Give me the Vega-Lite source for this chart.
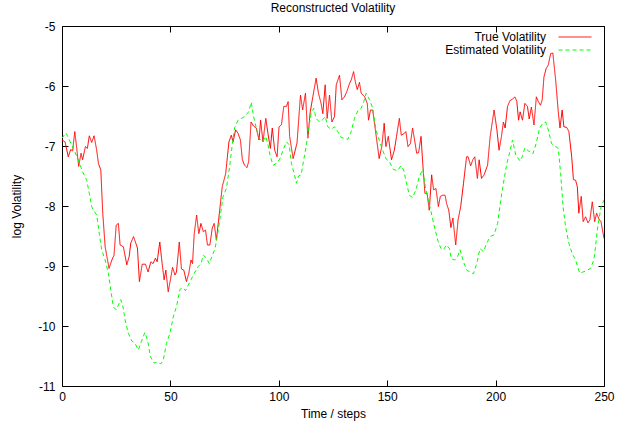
{
  "$schema": "https://vega.github.io/schema/vega-lite/v6.json",
  "autosize": "none",
  "width": 542,
  "height": 360,
  "padding": {"left": 62, "top": 26, "right": 24, "bottom": 41},
  "title": {"text": "Reconstructed Volatility", "fontSize": 12, "fontWeight": "normal", "font": "Liberation Sans", "color": "black", "offset": 5, "anchor": "middle"},
  "config": {
    "font": "Liberation Sans",
    "view": {"stroke": "black", "strokeWidth": 1},
    "axis": {"grid": false, "domain": false, "tickColor": "black", "tickSize": -6, "tickWidth": 1, "labelFontSize": 12, "titleFontSize": 12, "titleFontWeight": "normal", "labelColor": "black", "titleColor": "black", "labelFont": "Liberation Sans", "titleFont": "Liberation Sans"},
    "legend": {"labelFontSize": 12, "labelFont": "Liberation Sans", "labelColor": "black"}
  },
  "data": {"values": [
    {"t":0,"v":-6.9,"s":"True Volatility"},{"t":1.4,"v":-6.93,"s":"True Volatility"},{"t":2.9,"v":-7.18,"s":"True Volatility"},{"t":4,"v":-7.06,"s":"True Volatility"},{"t":4.9,"v":-7.08,"s":"True Volatility"},{"t":5.9,"v":-6.76,"s":"True Volatility"},{"t":6.8,"v":-7.04,"s":"True Volatility"},{"t":7.7,"v":-7.34,"s":"True Volatility"},{"t":8.8,"v":-7.12,"s":"True Volatility"},{"t":9.5,"v":-7.23,"s":"True Volatility"},
    {"t":10.8,"v":-7.01,"s":"True Volatility"},{"t":11.7,"v":-7.04,"s":"True Volatility"},{"t":12.6,"v":-6.83,"s":"True Volatility"},{"t":13.7,"v":-6.94,"s":"True Volatility"},{"t":14.8,"v":-6.83,"s":"True Volatility"},{"t":16,"v":-7.07,"s":"True Volatility"},{"t":16.8,"v":-7.29,"s":"True Volatility"},{"t":17.9,"v":-7.4,"s":"True Volatility"},{"t":18.8,"v":-8.12,"s":"True Volatility"},{"t":19.9,"v":-8.68,"s":"True Volatility"},
    {"t":21.7,"v":-9.04,"s":"True Volatility"},{"t":23,"v":-8.9,"s":"True Volatility"},{"t":24,"v":-8.82,"s":"True Volatility"},{"t":25,"v":-8.32,"s":"True Volatility"},{"t":26,"v":-8.29,"s":"True Volatility"},{"t":26.8,"v":-8.65,"s":"True Volatility"},{"t":28.3,"v":-8.68,"s":"True Volatility"},{"t":29.9,"v":-8.98,"s":"True Volatility"},{"t":31,"v":-8.84,"s":"True Volatility"},{"t":31.7,"v":-8.62,"s":"True Volatility"},
    {"t":33,"v":-8.51,"s":"True Volatility"},{"t":34.8,"v":-8.7,"s":"True Volatility"},{"t":35.7,"v":-9.26,"s":"True Volatility"},{"t":37,"v":-8.97,"s":"True Volatility"},{"t":38.5,"v":-8.97,"s":"True Volatility"},{"t":39.7,"v":-9.1,"s":"True Volatility"},{"t":41,"v":-8.93,"s":"True Volatility"},{"t":42,"v":-8.96,"s":"True Volatility"},{"t":43.1,"v":-8.87,"s":"True Volatility"},{"t":43.9,"v":-8.93,"s":"True Volatility"},
    {"t":45.1,"v":-8.6,"s":"True Volatility"},{"t":46.2,"v":-8.96,"s":"True Volatility"},{"t":47.1,"v":-9.23,"s":"True Volatility"},{"t":47.9,"v":-9.07,"s":"True Volatility"},{"t":49,"v":-9.43,"s":"True Volatility"},{"t":50,"v":-9.23,"s":"True Volatility"},{"t":51,"v":-9.02,"s":"True Volatility"},{"t":52.1,"v":-9.15,"s":"True Volatility"},{"t":52.8,"v":-9.1,"s":"True Volatility"},{"t":54.1,"v":-8.6,"s":"True Volatility"},
    {"t":55.1,"v":-9.05,"s":"True Volatility"},{"t":56.2,"v":-9.07,"s":"True Volatility"},{"t":57.4,"v":-9.26,"s":"True Volatility"},{"t":58.5,"v":-9.12,"s":"True Volatility"},{"t":59.5,"v":-8.9,"s":"True Volatility"},{"t":60.2,"v":-8.96,"s":"True Volatility"},{"t":61,"v":-8.46,"s":"True Volatility"},{"t":62.1,"v":-8.15,"s":"True Volatility"},{"t":63.1,"v":-8.46,"s":"True Volatility"},{"t":64.1,"v":-8.29,"s":"True Volatility"},
    {"t":65.2,"v":-8.43,"s":"True Volatility"},{"t":66.2,"v":-8.4,"s":"True Volatility"},{"t":67.1,"v":-8.65,"s":"True Volatility"},{"t":68.2,"v":-8.65,"s":"True Volatility"},{"t":69.3,"v":-8.37,"s":"True Volatility"},{"t":70.2,"v":-8.29,"s":"True Volatility"},{"t":71.2,"v":-8.57,"s":"True Volatility"},{"t":72.5,"v":-8.15,"s":"True Volatility"},{"t":73.9,"v":-7.68,"s":"True Volatility"},{"t":75.5,"v":-7.46,"s":"True Volatility"},
    {"t":77,"v":-6.93,"s":"True Volatility"},{"t":78.1,"v":-6.82,"s":"True Volatility"},{"t":78.9,"v":-6.93,"s":"True Volatility"},{"t":80.1,"v":-6.73,"s":"True Volatility"},{"t":81.2,"v":-6.79,"s":"True Volatility"},{"t":82.3,"v":-6.9,"s":"True Volatility"},{"t":83.2,"v":-7.23,"s":"True Volatility"},{"t":84.2,"v":-7.32,"s":"True Volatility"},{"t":85.3,"v":-7.36,"s":"True Volatility"},{"t":86.1,"v":-7.26,"s":"True Volatility"},
    {"t":87.2,"v":-6.6,"s":"True Volatility"},{"t":88.4,"v":-6.67,"s":"True Volatility"},{"t":89.6,"v":-6.7,"s":"True Volatility"},{"t":90.9,"v":-6.9,"s":"True Volatility"},{"t":91.6,"v":-6.57,"s":"True Volatility"},{"t":92.7,"v":-6.93,"s":"True Volatility"},{"t":94,"v":-6.54,"s":"True Volatility"},{"t":95,"v":-6.79,"s":"True Volatility"},{"t":96.1,"v":-7.04,"s":"True Volatility"},{"t":97,"v":-6.7,"s":"True Volatility"},
    {"t":98.1,"v":-7.07,"s":"True Volatility"},{"t":99.2,"v":-7.18,"s":"True Volatility"},{"t":100.1,"v":-6.68,"s":"True Volatility"},{"t":101.2,"v":-6.65,"s":"True Volatility"},{"t":102.3,"v":-6.34,"s":"True Volatility"},{"t":103.5,"v":-6.34,"s":"True Volatility"},{"t":104.3,"v":-6.26,"s":"True Volatility"},{"t":105,"v":-6.84,"s":"True Volatility"},{"t":106.6,"v":-7.21,"s":"True Volatility"},{"t":108.4,"v":-6.95,"s":"True Volatility"},
    {"t":110,"v":-6.15,"s":"True Volatility"},{"t":111,"v":-6.4,"s":"True Volatility"},{"t":112.3,"v":-6.12,"s":"True Volatility"},{"t":113.4,"v":-6.87,"s":"True Volatility"},{"t":114.5,"v":-6.43,"s":"True Volatility"},{"t":115.7,"v":-6.18,"s":"True Volatility"},{"t":117.2,"v":-5.87,"s":"True Volatility"},{"t":118.3,"v":-6.12,"s":"True Volatility"},{"t":119.5,"v":-6.29,"s":"True Volatility"},{"t":120.3,"v":-6.46,"s":"True Volatility"},
    {"t":121.4,"v":-5.98,"s":"True Volatility"},{"t":122.3,"v":-6.54,"s":"True Volatility"},{"t":123.4,"v":-6.15,"s":"True Volatility"},{"t":124.5,"v":-6.6,"s":"True Volatility"},{"t":125.7,"v":-6.51,"s":"True Volatility"},{"t":126.5,"v":-5.98,"s":"True Volatility"},{"t":128,"v":-5.82,"s":"True Volatility"},{"t":129.1,"v":-6.23,"s":"True Volatility"},{"t":130.3,"v":-6.18,"s":"True Volatility"},{"t":131.4,"v":-6.09,"s":"True Volatility"},
    {"t":132.6,"v":-5.96,"s":"True Volatility"},{"t":133.4,"v":-5.9,"s":"True Volatility"},{"t":134.5,"v":-5.76,"s":"True Volatility"},{"t":135.3,"v":-5.93,"s":"True Volatility"},{"t":136.2,"v":-6.06,"s":"True Volatility"},{"t":137.2,"v":-5.94,"s":"True Volatility"},{"t":138,"v":-6.12,"s":"True Volatility"},{"t":139.6,"v":-6.18,"s":"True Volatility"},{"t":140.8,"v":-6.29,"s":"True Volatility"},{"t":141.4,"v":-6.57,"s":"True Volatility"},
    {"t":142.3,"v":-6.4,"s":"True Volatility"},{"t":143.3,"v":-6.4,"s":"True Volatility"},{"t":144.5,"v":-6.72,"s":"True Volatility"},{"t":146.3,"v":-7.21,"s":"True Volatility"},{"t":147.5,"v":-7.01,"s":"True Volatility"},{"t":148.6,"v":-6.62,"s":"True Volatility"},{"t":149.4,"v":-7.01,"s":"True Volatility"},{"t":150.5,"v":-6.84,"s":"True Volatility"},{"t":152,"v":-7.23,"s":"True Volatility"},{"t":153.3,"v":-7.07,"s":"True Volatility"},
    {"t":154.3,"v":-6.84,"s":"True Volatility"},{"t":155.6,"v":-6.54,"s":"True Volatility"},{"t":156.5,"v":-6.82,"s":"True Volatility"},{"t":157.9,"v":-6.79,"s":"True Volatility"},{"t":158.6,"v":-6.76,"s":"True Volatility"},{"t":159.6,"v":-7.01,"s":"True Volatility"},{"t":160.7,"v":-6.96,"s":"True Volatility"},{"t":161.7,"v":-6.7,"s":"True Volatility"},{"t":162.5,"v":-6.87,"s":"True Volatility"},{"t":163.6,"v":-7.12,"s":"True Volatility"},
    {"t":164.5,"v":-7.11,"s":"True Volatility"},{"t":165.6,"v":-6.84,"s":"True Volatility"},{"t":166.4,"v":-7.29,"s":"True Volatility"},{"t":167.4,"v":-7.79,"s":"True Volatility"},{"t":168.4,"v":-7.79,"s":"True Volatility"},{"t":169.4,"v":-8.07,"s":"True Volatility"},{"t":170.5,"v":-7.48,"s":"True Volatility"},{"t":171.4,"v":-7.73,"s":"True Volatility"},{"t":172.5,"v":-7.71,"s":"True Volatility"},{"t":173.6,"v":-8.01,"s":"True Volatility"},
    {"t":174.5,"v":-7.84,"s":"True Volatility"},{"t":175.6,"v":-7.82,"s":"True Volatility"},{"t":176.7,"v":-7.82,"s":"True Volatility"},{"t":177.4,"v":-7.96,"s":"True Volatility"},{"t":178.4,"v":-8.07,"s":"True Volatility"},{"t":179.4,"v":-8.36,"s":"True Volatility"},{"t":180.3,"v":-8.2,"s":"True Volatility"},{"t":181.6,"v":-8.65,"s":"True Volatility"},{"t":182.7,"v":-8.23,"s":"True Volatility"},{"t":183.9,"v":-8.01,"s":"True Volatility"},
    {"t":185.2,"v":-7.62,"s":"True Volatility"},{"t":186.6,"v":-7.18,"s":"True Volatility"},{"t":187.3,"v":-7.18,"s":"True Volatility"},{"t":188.5,"v":-7.33,"s":"True Volatility"},{"t":189.5,"v":-7.23,"s":"True Volatility"},{"t":190.4,"v":-7.18,"s":"True Volatility"},{"t":191.6,"v":-7.54,"s":"True Volatility"},{"t":192.4,"v":-7.23,"s":"True Volatility"},{"t":193.5,"v":-7.54,"s":"True Volatility"},{"t":194.7,"v":-7.48,"s":"True Volatility"},
    {"t":196.3,"v":-7.32,"s":"True Volatility"},{"t":197.5,"v":-6.84,"s":"True Volatility"},{"t":198.6,"v":-6.57,"s":"True Volatility"},{"t":199.3,"v":-6.4,"s":"True Volatility"},{"t":200.6,"v":-6.73,"s":"True Volatility"},{"t":201.6,"v":-7.07,"s":"True Volatility"},{"t":202.7,"v":-6.84,"s":"True Volatility"},{"t":203.6,"v":-6.6,"s":"True Volatility"},{"t":204.4,"v":-6.7,"s":"True Volatility"},{"t":205.5,"v":-6.34,"s":"True Volatility"},
    {"t":206.7,"v":-6.24,"s":"True Volatility"},{"t":207.8,"v":-6.22,"s":"True Volatility"},{"t":208.9,"v":-6.18,"s":"True Volatility"},{"t":209.8,"v":-6.26,"s":"True Volatility"},{"t":210.6,"v":-6.57,"s":"True Volatility"},{"t":211.3,"v":-6.43,"s":"True Volatility"},{"t":212.4,"v":-6.57,"s":"True Volatility"},{"t":213.5,"v":-6.29,"s":"True Volatility"},{"t":214.7,"v":-6.34,"s":"True Volatility"},{"t":215.5,"v":-6.55,"s":"True Volatility"},
    {"t":216.5,"v":-6.35,"s":"True Volatility"},{"t":217.7,"v":-6.65,"s":"True Volatility"},{"t":218.8,"v":-6.18,"s":"True Volatility"},{"t":219.7,"v":-6.26,"s":"True Volatility"},{"t":220.7,"v":-6.32,"s":"True Volatility"},{"t":221.5,"v":-6.23,"s":"True Volatility"},{"t":222.3,"v":-5.85,"s":"True Volatility"},{"t":223.3,"v":-5.71,"s":"True Volatility"},{"t":224.3,"v":-5.65,"s":"True Volatility"},{"t":225.4,"v":-5.46,"s":"True Volatility"},
    {"t":226.4,"v":-5.45,"s":"True Volatility"},{"t":227.7,"v":-5.9,"s":"True Volatility"},{"t":228.9,"v":-6.43,"s":"True Volatility"},{"t":229.7,"v":-6.7,"s":"True Volatility"},{"t":230.7,"v":-6.4,"s":"True Volatility"},{"t":231.5,"v":-6.68,"s":"True Volatility"},{"t":232.8,"v":-6.69,"s":"True Volatility"},{"t":233.8,"v":-6.76,"s":"True Volatility"},{"t":235.1,"v":-7.18,"s":"True Volatility"},{"t":235.9,"v":-7.56,"s":"True Volatility"},
    {"t":236.9,"v":-7.57,"s":"True Volatility"},{"t":237.7,"v":-7.68,"s":"True Volatility"},{"t":238.4,"v":-8.12,"s":"True Volatility"},{"t":239.5,"v":-7.84,"s":"True Volatility"},{"t":240.4,"v":-8.26,"s":"True Volatility"},{"t":241.5,"v":-8.18,"s":"True Volatility"},{"t":242.6,"v":-8.28,"s":"True Volatility"},{"t":243.5,"v":-8.23,"s":"True Volatility"},{"t":244.6,"v":-7.93,"s":"True Volatility"},{"t":245.7,"v":-8.26,"s":"True Volatility"},
    {"t":246.6,"v":-8.12,"s":"True Volatility"},{"t":247.7,"v":-8.22,"s":"True Volatility"},{"t":248.6,"v":-8.26,"s":"True Volatility"},{"t":250,"v":-8.54,"s":"True Volatility"},
    {"t":0,"v":-6.87,"s":"Estimated Volatility"},{"t":1.8,"v":-6.78,"s":"Estimated Volatility"},{"t":3.4,"v":-6.9,"s":"Estimated Volatility"},{"t":5.2,"v":-7.04,"s":"Estimated Volatility"},{"t":7.5,"v":-7.23,"s":"Estimated Volatility"},{"t":9.5,"v":-7.43,"s":"Estimated Volatility"},{"t":11.4,"v":-7.57,"s":"Estimated Volatility"},{"t":12.6,"v":-7.79,"s":"Estimated Volatility"},{"t":13.7,"v":-8.01,"s":"Estimated Volatility"},{"t":14.5,"v":-8.07,"s":"Estimated Volatility"},
    {"t":16,"v":-8.15,"s":"Estimated Volatility"},{"t":17.2,"v":-8.46,"s":"Estimated Volatility"},{"t":18.3,"v":-8.73,"s":"Estimated Volatility"},{"t":19.9,"v":-8.9,"s":"Estimated Volatility"},{"t":21.4,"v":-9.12,"s":"Estimated Volatility"},{"t":22.5,"v":-9.4,"s":"Estimated Volatility"},{"t":23.7,"v":-9.68,"s":"Estimated Volatility"},{"t":25,"v":-9.73,"s":"Estimated Volatility"},{"t":26,"v":-9.65,"s":"Estimated Volatility"},{"t":27.1,"v":-9.56,"s":"Estimated Volatility"},
    {"t":28,"v":-9.65,"s":"Estimated Volatility"},{"t":29.1,"v":-9.9,"s":"Estimated Volatility"},{"t":30.6,"v":-10.12,"s":"Estimated Volatility"},{"t":32.2,"v":-10.25,"s":"Estimated Volatility"},{"t":33.7,"v":-10.29,"s":"Estimated Volatility"},{"t":35.2,"v":-10.4,"s":"Estimated Volatility"},{"t":36.6,"v":-10.26,"s":"Estimated Volatility"},{"t":38.2,"v":-10.11,"s":"Estimated Volatility"},{"t":39.4,"v":-10.23,"s":"Estimated Volatility"},{"t":40.8,"v":-10.51,"s":"Estimated Volatility"},
    {"t":42.4,"v":-10.62,"s":"Estimated Volatility"},{"t":43.9,"v":-10.6,"s":"Estimated Volatility"},{"t":45.6,"v":-10.63,"s":"Estimated Volatility"},{"t":46.7,"v":-10.57,"s":"Estimated Volatility"},{"t":48.2,"v":-10.29,"s":"Estimated Volatility"},{"t":49.8,"v":-10.12,"s":"Estimated Volatility"},{"t":51.3,"v":-9.85,"s":"Estimated Volatility"},{"t":52.8,"v":-9.68,"s":"Estimated Volatility"},{"t":54.4,"v":-9.39,"s":"Estimated Volatility"},{"t":55.6,"v":-9.36,"s":"Estimated Volatility"},
    {"t":57,"v":-9.41,"s":"Estimated Volatility"},{"t":58.2,"v":-9.32,"s":"Estimated Volatility"},{"t":59.5,"v":-9.23,"s":"Estimated Volatility"},{"t":61,"v":-9.12,"s":"Estimated Volatility"},{"t":62.8,"v":-9.01,"s":"Estimated Volatility"},{"t":64.1,"v":-8.96,"s":"Estimated Volatility"},{"t":65.2,"v":-8.82,"s":"Estimated Volatility"},{"t":66.7,"v":-8.87,"s":"Estimated Volatility"},{"t":67.9,"v":-8.96,"s":"Estimated Volatility"},{"t":69.3,"v":-8.83,"s":"Estimated Volatility"},
    {"t":70.6,"v":-8.71,"s":"Estimated Volatility"},{"t":72.3,"v":-8.35,"s":"Estimated Volatility"},{"t":74.3,"v":-7.84,"s":"Estimated Volatility"},{"t":75.8,"v":-7.71,"s":"Estimated Volatility"},{"t":77.3,"v":-7.35,"s":"Estimated Volatility"},{"t":78.6,"v":-6.96,"s":"Estimated Volatility"},{"t":79.6,"v":-6.7,"s":"Estimated Volatility"},{"t":81.2,"v":-6.57,"s":"Estimated Volatility"},{"t":82.7,"v":-6.54,"s":"Estimated Volatility"},{"t":84.2,"v":-6.51,"s":"Estimated Volatility"},
    {"t":86.1,"v":-6.43,"s":"Estimated Volatility"},{"t":87.3,"v":-6.27,"s":"Estimated Volatility"},{"t":88.4,"v":-6.51,"s":"Estimated Volatility"},{"t":89.6,"v":-6.7,"s":"Estimated Volatility"},{"t":90.9,"v":-6.87,"s":"Estimated Volatility"},{"t":92.4,"v":-6.93,"s":"Estimated Volatility"},{"t":94,"v":-6.84,"s":"Estimated Volatility"},{"t":95,"v":-6.98,"s":"Estimated Volatility"},{"t":96.1,"v":-7.18,"s":"Estimated Volatility"},{"t":97.4,"v":-7.32,"s":"Estimated Volatility"},
    {"t":98.9,"v":-7.29,"s":"Estimated Volatility"},{"t":100.4,"v":-7.22,"s":"Estimated Volatility"},{"t":102,"v":-7.07,"s":"Estimated Volatility"},{"t":103.5,"v":-6.93,"s":"Estimated Volatility"},{"t":104.8,"v":-6.98,"s":"Estimated Volatility"},{"t":105.8,"v":-7.29,"s":"Estimated Volatility"},{"t":107.1,"v":-7.46,"s":"Estimated Volatility"},{"t":108.1,"v":-7.62,"s":"Estimated Volatility"},{"t":109.1,"v":-7.5,"s":"Estimated Volatility"},{"t":110.3,"v":-7.48,"s":"Estimated Volatility"},
    {"t":111.5,"v":-7.23,"s":"Estimated Volatility"},{"t":112.6,"v":-7.01,"s":"Estimated Volatility"},{"t":113.7,"v":-6.73,"s":"Estimated Volatility"},{"t":114.9,"v":-6.46,"s":"Estimated Volatility"},{"t":116.1,"v":-6.37,"s":"Estimated Volatility"},{"t":117.2,"v":-6.54,"s":"Estimated Volatility"},{"t":118.8,"v":-6.6,"s":"Estimated Volatility"},{"t":120.3,"v":-6.56,"s":"Estimated Volatility"},{"t":121.4,"v":-6.51,"s":"Estimated Volatility"},{"t":122.6,"v":-6.68,"s":"Estimated Volatility"},
    {"t":124.2,"v":-6.72,"s":"Estimated Volatility"},{"t":125.7,"v":-6.68,"s":"Estimated Volatility"},{"t":127.2,"v":-6.76,"s":"Estimated Volatility"},{"t":128.8,"v":-6.86,"s":"Estimated Volatility"},{"t":130.3,"v":-6.87,"s":"Estimated Volatility"},{"t":131.8,"v":-6.89,"s":"Estimated Volatility"},{"t":133.4,"v":-6.76,"s":"Estimated Volatility"},{"t":134.9,"v":-6.54,"s":"Estimated Volatility"},{"t":136.5,"v":-6.41,"s":"Estimated Volatility"},{"t":138,"v":-6.37,"s":"Estimated Volatility"},
    {"t":139.2,"v":-6.26,"s":"Estimated Volatility"},{"t":140.3,"v":-6.12,"s":"Estimated Volatility"},{"t":141.9,"v":-6.23,"s":"Estimated Volatility"},{"t":143.3,"v":-6.37,"s":"Estimated Volatility"},{"t":144.8,"v":-6.73,"s":"Estimated Volatility"},{"t":146.3,"v":-6.9,"s":"Estimated Volatility"},{"t":147.9,"v":-7.07,"s":"Estimated Volatility"},{"t":149.4,"v":-7.21,"s":"Estimated Volatility"},{"t":151,"v":-7.26,"s":"Estimated Volatility"},{"t":152.8,"v":-7.39,"s":"Estimated Volatility"},
    {"t":154.8,"v":-7.41,"s":"Estimated Volatility"},{"t":156.3,"v":-7.33,"s":"Estimated Volatility"},{"t":157.6,"v":-7.4,"s":"Estimated Volatility"},{"t":158.6,"v":-7.57,"s":"Estimated Volatility"},{"t":160.2,"v":-7.82,"s":"Estimated Volatility"},{"t":161.7,"v":-7.86,"s":"Estimated Volatility"},{"t":163.3,"v":-7.73,"s":"Estimated Volatility"},{"t":164.8,"v":-7.51,"s":"Estimated Volatility"},{"t":166.4,"v":-7.39,"s":"Estimated Volatility"},{"t":167.6,"v":-7.68,"s":"Estimated Volatility"},
    {"t":168.7,"v":-7.87,"s":"Estimated Volatility"},{"t":170.2,"v":-8.09,"s":"Estimated Volatility"},{"t":171.8,"v":-8.35,"s":"Estimated Volatility"},{"t":173.3,"v":-8.57,"s":"Estimated Volatility"},{"t":174.8,"v":-8.71,"s":"Estimated Volatility"},{"t":175.9,"v":-8.73,"s":"Estimated Volatility"},{"t":177.4,"v":-8.65,"s":"Estimated Volatility"},{"t":178.7,"v":-8.71,"s":"Estimated Volatility"},{"t":179.6,"v":-8.88,"s":"Estimated Volatility"},{"t":181.1,"v":-8.9,"s":"Estimated Volatility"},
    {"t":182.4,"v":-8.85,"s":"Estimated Volatility"},{"t":183.6,"v":-8.73,"s":"Estimated Volatility"},{"t":185.2,"v":-8.93,"s":"Estimated Volatility"},{"t":186.7,"v":-9.07,"s":"Estimated Volatility"},{"t":188.2,"v":-9.1,"s":"Estimated Volatility"},{"t":189.8,"v":-9.13,"s":"Estimated Volatility"},{"t":191.3,"v":-8.96,"s":"Estimated Volatility"},{"t":192.8,"v":-8.71,"s":"Estimated Volatility"},{"t":194.4,"v":-8.76,"s":"Estimated Volatility"},{"t":195.9,"v":-8.62,"s":"Estimated Volatility"},
    {"t":197.5,"v":-8.51,"s":"Estimated Volatility"},{"t":199.3,"v":-8.48,"s":"Estimated Volatility"},{"t":200.9,"v":-8.29,"s":"Estimated Volatility"},{"t":202.4,"v":-7.9,"s":"Estimated Volatility"},{"t":203.6,"v":-7.62,"s":"Estimated Volatility"},{"t":205.2,"v":-7.29,"s":"Estimated Volatility"},{"t":206.6,"v":-7.09,"s":"Estimated Volatility"},{"t":207.8,"v":-6.9,"s":"Estimated Volatility"},{"t":209.3,"v":-7.15,"s":"Estimated Volatility"},{"t":211.3,"v":-7.25,"s":"Estimated Volatility"},
    {"t":212.4,"v":-7.17,"s":"Estimated Volatility"},{"t":213.5,"v":-7.03,"s":"Estimated Volatility"},{"t":215,"v":-7.08,"s":"Estimated Volatility"},{"t":216.3,"v":-7.1,"s":"Estimated Volatility"},{"t":217.2,"v":-7.13,"s":"Estimated Volatility"},{"t":218.7,"v":-6.96,"s":"Estimated Volatility"},{"t":220.3,"v":-6.7,"s":"Estimated Volatility"},{"t":221.8,"v":-6.62,"s":"Estimated Volatility"},{"t":223.1,"v":-6.6,"s":"Estimated Volatility"},{"t":224.3,"v":-6.73,"s":"Estimated Volatility"},
    {"t":225.8,"v":-6.96,"s":"Estimated Volatility"},{"t":227.4,"v":-7.0,"s":"Estimated Volatility"},{"t":228.9,"v":-7.04,"s":"Estimated Volatility"},{"t":230,"v":-7.46,"s":"Estimated Volatility"},{"t":231.1,"v":-8.01,"s":"Estimated Volatility"},{"t":232.3,"v":-8.35,"s":"Estimated Volatility"},{"t":233.8,"v":-8.62,"s":"Estimated Volatility"},{"t":235.3,"v":-8.79,"s":"Estimated Volatility"},{"t":236.9,"v":-8.9,"s":"Estimated Volatility"},{"t":238.8,"v":-9.12,"s":"Estimated Volatility"},
    {"t":240.3,"v":-9.1,"s":"Estimated Volatility"},{"t":241.8,"v":-9.08,"s":"Estimated Volatility"},{"t":243.8,"v":-9.04,"s":"Estimated Volatility"},{"t":245.3,"v":-8.9,"s":"Estimated Volatility"},{"t":246.1,"v":-8.68,"s":"Estimated Volatility"},{"t":246.9,"v":-8.4,"s":"Estimated Volatility"},{"t":248,"v":-8.15,"s":"Estimated Volatility"},{"t":248.7,"v":-8.01,"s":"Estimated Volatility"},{"t":250,"v":-7.9,"s":"Estimated Volatility"}
  ]},
  "layer": [
    {
      "mark": {"type": "line", "strokeWidth": 1, "clip": true},
      "encoding": {
        "x": {"field": "t", "type": "quantitative", "scale": {"domain": [0, 250], "nice": false}, "axis": {"orient": "bottom", "title": "Time / steps", "values": [0, 50, 100, 150, 200, 250], "labelPadding": 11, "titlePadding": 6, "labelFlush": false}},
        "y": {"field": "v", "type": "quantitative", "scale": {"domain": [-11, -5], "nice": false, "zero": false}, "axis": {"orient": "left", "title": "log Volatility", "values": [-11, -10, -9, -8, -7, -6, -5], "labelExpr": "datum.value + ''", "labelPadding": 13, "titlePadding": 14, "labelFlush": false}},
        "color": {"field": "s", "type": "nominal", "scale": {"domain": ["True Volatility", "Estimated Volatility"], "range": ["#ff0000", "#00ff00"]},
          "legend": {"title": null, "orient": "none", "legendX": 507, "legendY": 5, "symbolType": "M-3.3,0H3.3", "symbolSize": 100, "symbolStrokeWidth": 1, "labelAlign": "right", "labelOffset": -35, "rowPadding": 1, "labelFontSize": 12}},
        "strokeDash": {"field": "s", "type": "nominal", "scale": {"domain": ["True Volatility", "Estimated Volatility"], "range": [[1, 0], [4, 3]]},
          "legend": {"title": null, "orient": "none", "legendX": 507, "legendY": 5, "symbolType": "M-3.3,0H3.3", "symbolSize": 100, "symbolStrokeWidth": 1, "labelAlign": "right", "labelOffset": -35, "rowPadding": 1, "labelFontSize": 12}}
      }
    },
    {
      "mark": {"type": "line", "opacity": 0},
      "encoding": {
        "x": {"field": "t", "type": "quantitative", "axis": {"orient": "top", "title": null, "labels": false, "values": [0, 50, 100, 150, 200, 250]}},
        "y": {"field": "v", "type": "quantitative", "axis": {"orient": "right", "title": null, "labels": false, "values": [-11, -10, -9, -8, -7, -6, -5]}},
        "detail": {"field": "s"}
      }
    }
  ],
  "resolve": {"axis": {"x": "independent", "y": "independent"}}
}
